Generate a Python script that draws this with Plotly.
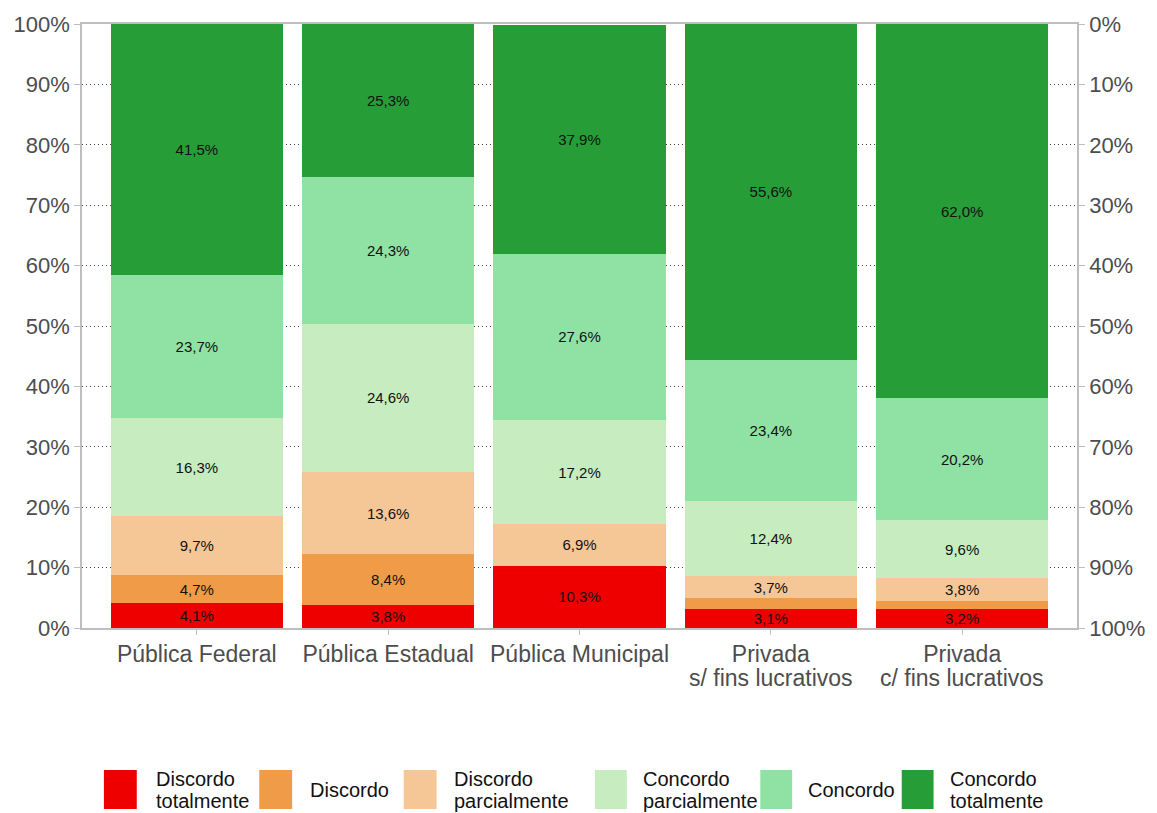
import plotly.graph_objects as go

# Survey responses by institution type (percent of respondents)
categories = ["Pública Federal", "Pública Estadual", "Pública Municipal",
              "Privada s/ fins lucrativos", "Privada c/ fins lucrativos"]
category_line1 = ["Pública Federal", "Pública Estadual", "Pública Municipal",
                  "Privada", "Privada"]
category_line2 = ["", "", "", "s/ fins lucrativos", "c/ fins lucrativos"]

discordo_totalmente = [4.1, 3.8, 10.3, 3.1, 3.2]
discordo = [4.7, 8.4, 0.0, 1.8, 1.2]
discordo_parcialmente = [9.7, 13.6, 6.9, 3.7, 3.8]
concordo_parcialmente = [16.3, 24.6, 17.2, 12.4, 9.6]
concordo = [23.7, 24.3, 27.6, 23.4, 20.2]
concordo_totalmente = [41.5, 25.3, 37.9, 55.6, 62.0]

series_names = ["Discordo<br>totalmente", "Discordo", "Discordo<br>parcialmente",
                "Concordo<br>parcialmente", "Concordo", "Concordo<br>totalmente"]
series_values = [discordo_totalmente, discordo, discordo_parcialmente,
                 concordo_parcialmente, concordo, concordo_totalmente]
colors = ["#EE0000", "#F09B48", "#F6C796", "#C7ECC0", "#8FE2A3", "#279D38"]

tick_values = list(range(0, 101, 10))
tick_labels = [f"{v}%" for v in tick_values]

axis_grey = "#BEBEBE"
label_grey = "#4D4D4D"
FONT = "Liberation Sans, Arial, sans-serif"


def pct_label(v):
    return (f"{v:.1f}".replace(".", ",") + "%") if v >= 3 else ""


fig = go.Figure()
for name, vals, col in zip(series_names, series_values, colors):
    fig.add_trace(go.Bar(
        x=categories, y=vals, name=name,
        marker=dict(color=col, line=dict(width=0)),
        width=0.9,
        text=[pct_label(v) for v in vals],
        textposition="inside", insidetextanchor="middle",
        textangle=0, constraintext="none",
        textfont=dict(family=FONT, size=15, color="#111111"),
        showlegend=False,
        hoverinfo="skip",
    ))

# Invisible trace carrying the reversed right-hand scale
fig.add_trace(go.Scatter(x=[categories[0]], y=[0], yaxis="y2",
                         mode="markers", marker=dict(opacity=0),
                         showlegend=False, hoverinfo="skip"))

fig.update_layout(
    barmode="stack",
    width=1157, height=813,
    margin=dict(l=82, r=76, t=24, b=185),
    paper_bgcolor="white", plot_bgcolor="white",
    font=dict(family=FONT),
    xaxis=dict(
        range=[-0.6, 4.6], showline=True, linecolor=axis_grey, linewidth=1.5,
        mirror=True, ticks="outside", ticklen=5, tickcolor=axis_grey,
        tickmode="array", tickvals=categories, ticktext=category_line1,
        tickfont=dict(size=23, color=label_grey, family=FONT),
        showgrid=False, zeroline=False,
    ),
    yaxis=dict(
        range=[0, 100], tickmode="array", tickvals=tick_values, ticktext=tick_labels,
        showline=True, linecolor=axis_grey, linewidth=1.5,
        ticks="outside", ticklen=6, tickcolor=axis_grey,
        tickfont=dict(size=22, color=label_grey, family=FONT),
        showgrid=True, gridcolor="#444444", griddash="1px,3px", gridwidth=1,
        zeroline=False,
    ),
    yaxis2=dict(
        overlaying="y", side="right", range=[100, 0],
        tickmode="array", tickvals=tick_values, ticktext=tick_labels,
        showline=True, linecolor=axis_grey, linewidth=1.5,
        ticks="outside", ticklen=6, tickcolor=axis_grey,
        tickfont=dict(size=22, color=label_grey, family=FONT),
        showgrid=False, zeroline=False,
    ),
    showlegend=False,
)

W, H = 1157, 813
ML, MR, MT, MB = 82, 76, 24, 185
PW, PH = W - ML - MR, H - MT - MB


def px_x(x):
    return (x - ML) / PW


def px_y(y):
    return (H - MB - y) / PH


# Second line of the category labels, tighter than the default line height
for cat, line in zip(categories, category_line2):
    if line:
        fig.add_annotation(xref="x", yref="paper", x=cat, y=px_y(678),
                           xanchor="center", yanchor="middle", text=line,
                           showarrow=False,
                           font=dict(size=23, color=label_grey, family=FONT))

# Legend drawn below the plot: swatch x-range and label x-position in pixels
legend_swatch_x = [(104, 137), (260, 293), (405, 438), (597, 629), (763, 795), (905, 937)]
legend_text_x = [154, 309, 453, 643, 809, 951]
sw_top, sw_bot = 770, 809
for (x0, x1), tx, name, col in zip(legend_swatch_x, legend_text_x, series_names, colors):
    fig.add_shape(type="rect", xref="paper", yref="paper",
                  x0=px_x(x0), x1=px_x(x1), y0=px_y(sw_bot), y1=px_y(sw_top),
                  fillcolor=col, line=dict(width=0))
    lines = name.split("<br>")
    centers = [790] if len(lines) == 1 else [779, 801]
    for line, cy in zip(lines, centers):
        fig.add_annotation(xref="paper", yref="paper",
                           x=px_x(tx), y=px_y(cy),
                           xanchor="left", yanchor="middle", align="left",
                           text=line, showarrow=False,
                           font=dict(size=20, color="#111111", family=FONT))

fig.write_html("out.html")
